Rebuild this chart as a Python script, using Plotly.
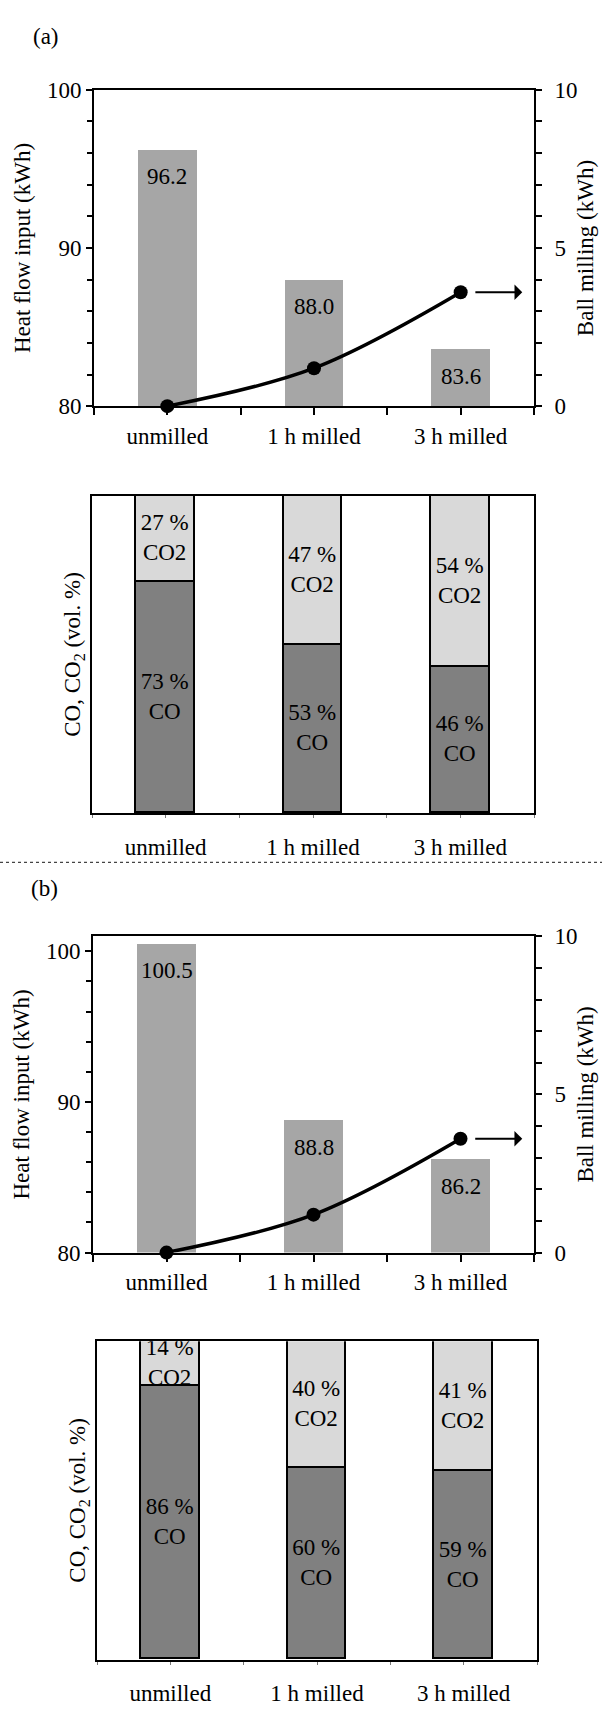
import plotly.graph_objects as go

# ---------------- data ----------------
categories = ["unmilled", "1 h milled", "3 h milled"]

heat_a = [96.2, 88.0, 83.6]
ball_a = [0.0, 1.2, 3.6]
co_a = [73, 53, 46]
co2_a = [27, 47, 54]

heat_b = [100.5, 88.8, 86.2]
ball_b = [0.0, 1.2, 3.6]
co_b = [86, 60, 59]
co2_b = [14, 40, 41]

panel_labels = ["(a)", "(b)"]

# ---------------- layout helpers ----------------
W, H = 602, 1709
FONT = "Liberation Serif"
FS = 23
BAR_GREY = "#a6a6a6"
CO_COL = "#808080"
CO2_COL = "#d9d9d9"


def px(x):
    return x / W


def py(y):
    return 1 - y / H


idx = list(range(len(categories)))
bounds = [i - 0.5 for i in idx] + [idx[-1] + 0.5]

fig = go.Figure()


def heat_panel(xa, ya, ya2, heat, ball):
    fig.add_trace(go.Bar(x=idx, y=heat, width=0.4, marker=dict(color=BAR_GREY, line=dict(width=0)),
                         xaxis=xa, yaxis=ya, showlegend=False))
    fig.add_trace(go.Scatter(x=idx, y=ball, mode="lines+markers",
                             line=dict(color="black", width=3.5, shape="spline", smoothing=1),
                             marker=dict(color="black", size=14),
                             xaxis=xa, yaxis=ya2, cliponaxis=False, showlegend=False))
    for i, v in zip(idx, heat):
        fig.add_annotation(x=i, y=v, xref=xa, yref=ya, text=f"{v:.1f}", showarrow=False,
                           yshift=-27, font=dict(family=FONT, size=FS, color="black"))
    # arrow pointing to the right axis
    fig.add_annotation(x=idx[-1] + 0.42, y=ball[-1], ax=idx[-1] + 0.09, ay=ball[-1],
                       xref=xa, yref=ya2, axref=xa, ayref=ya2, text="", showarrow=True,
                       arrowhead=1, arrowsize=1.3, arrowwidth=2, arrowcolor="black")


def gas_panel(xa, ya, co, co2):
    fig.add_trace(go.Bar(x=idx, y=co, width=0.4, text=[f"{v} %<br>CO" for v in co],
                         textposition="inside", insidetextanchor="middle", textangle=0,
                         textfont=dict(family=FONT, size=FS, color="black"),
                         marker=dict(color=CO_COL, line=dict(color="black", width=1.8)),
                         xaxis=xa, yaxis=ya, showlegend=False))
    fig.add_trace(go.Bar(x=idx, y=co2, width=0.4, text=[f"{v} %<br>CO2" for v in co2],
                         textposition="inside", insidetextanchor="middle", textangle=0,
                         textfont=dict(family=FONT, size=FS, color="black"),
                         marker=dict(color=CO2_COL, line=dict(color="black", width=1.8)),
                         xaxis=xa, yaxis=ya, showlegend=False))


heat_panel("x", "y", "y2", heat_a, ball_a)
gas_panel("x2", "y3", co_a, co2_a)
heat_panel("x3", "y4", "y5", heat_b, ball_b)
gas_panel("x4", "y6", co_b, co2_b)

tickfont = dict(family=FONT, size=FS, color="black")


def xaxis_top(dom, anchor):
    return dict(domain=[px(dom[0]), px(dom[1])], anchor=anchor, range=[-0.5, 2.5],
                tickvals=idx, ticktext=categories, ticks="outside", ticklen=7, tickwidth=2,
                tickcolor="black", showline=True, linewidth=2, linecolor="black", mirror=True,
                showgrid=False, zeroline=False, tickfont=tickfont, ticklabelstandoff=1,
                minor=dict(tickvals=bounds, ticks="outside", ticklen=7, tickwidth=2, tickcolor="black"))


def xaxis_gas(dom, anchor):
    return dict(domain=[px(dom[0]), px(dom[1])], anchor=anchor, range=[-0.5, 2.5],
                tickvals=idx, ticktext=categories, ticks="outside", ticklen=3, tickwidth=1,
                tickcolor="#777777", showline=True, linewidth=2, linecolor="black", mirror=True,
                showgrid=False, zeroline=False, tickfont=tickfont, ticklabelstandoff=9,
                minor=dict(tickvals=bounds, ticks="outside", ticklen=3, tickwidth=1, tickcolor="#777777"))


def yaxis_heat(dom, anchor, rng):
    return dict(domain=[py(dom[1]), py(dom[0])], anchor=anchor, range=rng,
                tickvals=[80, 90, 100], ticks="outside", ticklen=6, tickwidth=2, tickcolor="black",
                showline=True, linewidth=2, linecolor="black", showgrid=False, zeroline=False,
                tickfont=tickfont, ticklabelstandoff=0,
                title=dict(text="Heat flow input (kWh)", font=tickfont, standoff=10),
                minor=dict(dtick=2, tick0=80, ticks="outside", ticklen=5, tickwidth=2, tickcolor="black"))


def yaxis_ball(overlay, anchor):
    return dict(overlaying=overlay, anchor=anchor, side="right", range=[0, 10],
                tickvals=[0, 5, 10], ticks="outside", ticklen=6, tickwidth=2, tickcolor="black",
                showline=True, linewidth=2, linecolor="black", showgrid=False, zeroline=False,
                tickfont=tickfont, ticklabelstandoff=8,
                title=dict(text="Ball milling (kWh)", font=tickfont, standoff=0),
                minor=dict(dtick=1, tick0=0, ticks="outside", ticklen=6, tickwidth=2, tickcolor="black"))


def yaxis_gas(dom, anchor):
    return dict(domain=[py(dom[1]), py(dom[0])], anchor=anchor, range=[0, 100],
                showticklabels=False, ticks="", showline=True, linewidth=2, linecolor="black",
                mirror=True, showgrid=False, zeroline=False,
                title=dict(text="CO, CO<sub>2</sub> (vol. %)", font=tickfont, standoff=3))


fig.update_layout(
    width=W, height=H,
    margin=dict(l=0, r=0, t=0, b=0),
    paper_bgcolor="white", plot_bgcolor="white",
    barmode="stack", bargap=0,
    font=dict(family=FONT, size=FS, color="black"),
    uniformtext=dict(minsize=FS, mode="show"),
    xaxis=xaxis_top((94, 534), "y"),
    yaxis=yaxis_heat((79, 400), "x", [80, 100]),
    yaxis2=yaxis_ball("y", "x"),
    xaxis2=xaxis_gas((92, 534), "y3"),
    yaxis3=yaxis_gas((491, 813), "x2"),
    xaxis3=xaxis_top((93, 534), "y4"),
    yaxis4=yaxis_heat((938, 1259), "x3", [80, 101]),
    yaxis5=yaxis_ball("y4", "x3"),
    xaxis4=xaxis_gas((97, 537), "y6"),
    yaxis6=yaxis_gas((1349, 1672), "x4"),
)

# panel letters
for lab, (xx, yy) in zip(panel_labels, [(46, 25), (44, 890)]):
    fig.add_annotation(x=px(xx), y=py(yy), xref="paper", yref="paper", text=lab, showarrow=False,
                       xanchor="center", yanchor="middle", font=dict(family=FONT, size=FS, color="black"))

# dashed separator
fig.add_shape(type="line", xref="paper", yref="paper", x0=0, x1=1, y0=py(863), y1=py(863),
              line=dict(color="#444444", width=1.3, dash="dot"))

fig.write_html("out.html")
